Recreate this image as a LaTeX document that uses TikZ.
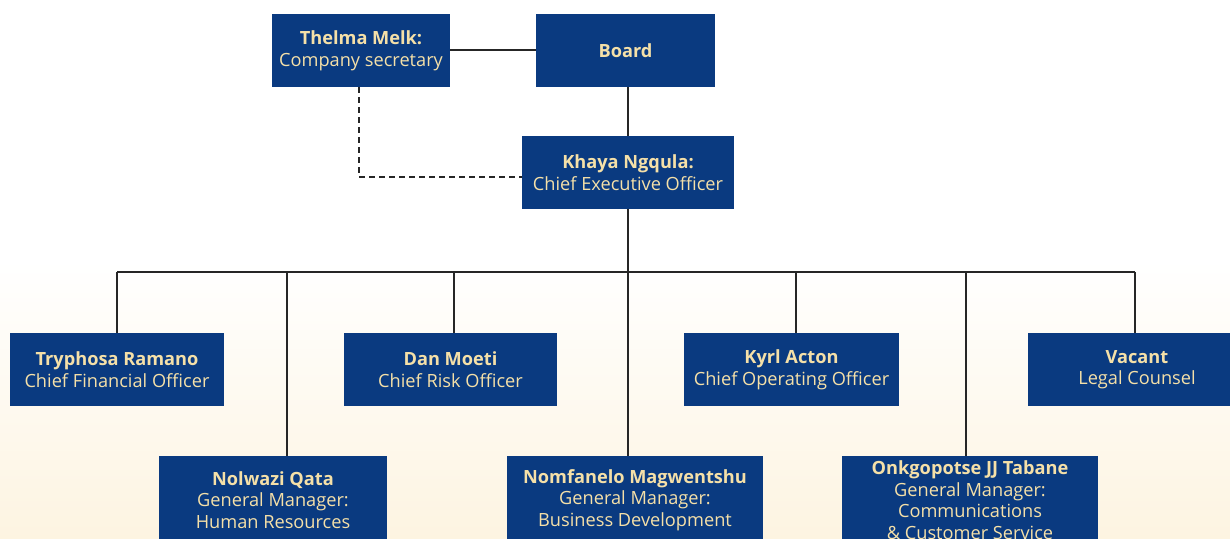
\documentclass[tikz,border=0pt]{standalone}
\usepackage{fontspec}
\setmainfont{Open Sans}
\usepackage{xcolor}
\definecolor{boxblue}{HTML}{0A3A80}
\definecolor{boxtext}{HTML}{F5E0A8}
\definecolor{paper}{HTML}{FDF4E1}

\begin{document}
\begin{tikzpicture}[x=0.5pt, y=-0.5pt,
		post/.style={shape=rectangle, fill=boxblue, text=boxtext, align=center, inner sep=0pt,
			font=\fontsize{9.1}{10.8}\selectfont},
		link/.style={draw=black!85, line width=1pt}]
			\useasboundingbox (0,0) rectangle (1230,539);
			\clip (0,0) rectangle (1230,539);
			% background
			\fill[white] (0,0) rectangle (1230,539);
			\shade[top color=white, bottom color=paper] (0,260) rectangle (1230,539);
			% top of the chart
			\node (thelma) at (361,50.5) [post, minimum width=89pt, minimum height=36.5pt] {\textbf{Thelma Melk:}\\Company secretary};
			\node (board) at (625.5,50.5) [post, minimum width=89.5pt, minimum height=36.5pt] {\textbf{Board}};
			\node (ceo) at (628,172.5) [post, minimum width=106pt, minimum height=36.5pt] {\textbf{Khaya Ngqula:}\\Chief Executive Officer};
			% first row
			\node (tryphosa) at (117,369.5) [post, minimum width=107pt, minimum height=36.5pt] {\textbf{Tryphosa Ramano}\\Chief Financial Officer};
			\node (dan) at (450.5,369.5) [post, minimum width=106.5pt, minimum height=36.5pt] {\textbf{Dan Moeti}\\Chief Risk Officer};
			\node (kyrl) at (791.5,369.5) [post, minimum width=107.5pt, minimum height=36.5pt] {\textbf{Kyrl Acton}\\Chief Operating Officer};
			\node (vacant) at (1137,369.5) [post, minimum width=109pt, minimum height=36.5pt] {\textbf{Vacant}\\Legal Counsel};
			% second row
			\node (nolwazi) at (273,500) [post, minimum width=114pt, minimum height=44pt] {\textbf{Nolwazi Qata}\\General Manager:\\Human Resources};
			\node (nomfanelo) at (635,500) [post, minimum width=128pt, minimum height=44pt] {\textbf{Nomfanelo Magwentshu}\\General Manager:\\Business Development};
			\node (onkgo) at (970,500) [post, minimum width=128pt, minimum height=44pt] {\textbf{Onkgopotse JJ Tabane}\\General Manager:\\Communications\\\& Customer Service};
			% lines
			\draw[link] (thelma) -- (board);
			\draw[link] (ceo.north) -- (ceo.north |- board.south);
			\draw[link, dash pattern=on 3pt off 2pt] ([xshift=-1pt]thelma.south) |- ([yshift=-2.25pt]ceo.west);
			\draw[link] (ceo.south) -- (ceo.south |- nomfanelo.north);
			\coordinate (busL) at (117,272);
			\coordinate (busR) at (1135,272);
			\draw[link] (busL) -- (busR);
			\foreach \x/\n in {117/tryphosa, 287/nolwazi, 454/dan, 796/kyrl, 966/onkgo, 1135/vacant}
				{
				\coordinate (d\n) at (\x,272);
				\draw[link] (d\n) -- (d\n |- \n.north);
				}
		\end{tikzpicture}
\end{document}
